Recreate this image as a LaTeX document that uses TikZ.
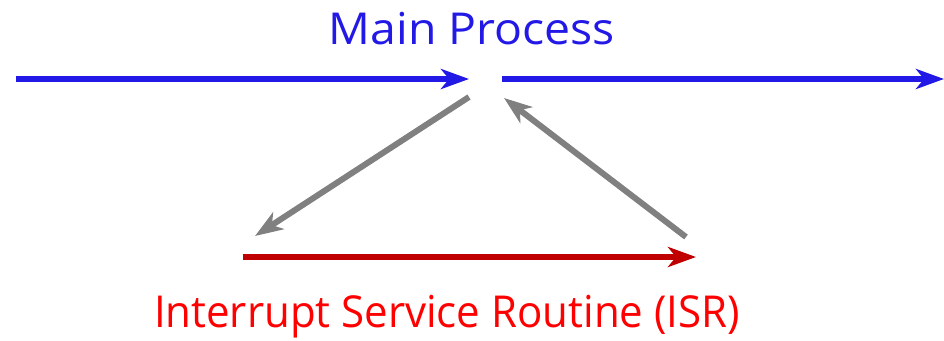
\documentclass[tikz,border=0pt]{standalone}
\usepackage{fontspec}
\setmainfont{Open Sans}
\usetikzlibrary{arrows.meta}
\definecolor{mainblue}{RGB}{35,25,230}
\definecolor{isrred}{RGB}{192,0,0}
\definecolor{isrtext}{RGB}{255,0,0}
\definecolor{linkgray}{RGB}{128,128,128}
\tikzset{
  flow/.style={line width=6pt,-{Stealth[length=28pt,width=20pt,inset=8pt]}},
  label/.style={inner sep=0pt,anchor=center,font=\fontsize{44}{52}\selectfont},
}
\begin{document}
\begin{tikzpicture}[x=1pt,y=-1pt]
\useasboundingbox (0,0) rectangle (944,340);
\coordinate (m0) at (16,79);
\coordinate (m1) at (469,79);
\coordinate (m2) at (502,79);
\coordinate (m3) at (944,79);
\coordinate (g1s) at (469,97);
\coordinate (g1e) at (255,236);
\coordinate (g2s) at (686,237);
\coordinate (g2e) at (504,98);
\coordinate (r0) at (243,257);
\coordinate (r1) at (696,257);
\node[label,text=mainblue,xscale=1.054] (mp) at (472,29) {Main Process};
\node[label,text=isrtext,xscale=0.955] (isr) at (447,317) {Interrupt Service Routine (ISR)};
\draw[flow,mainblue] (m0) -- (m1);
\draw[flow,mainblue] (m2) -- (m3);
\draw[flow,linkgray] (g1s) -- (g1e);
\draw[flow,linkgray] (g2s) -- (g2e);
\draw[flow,isrred] (r0) -- (r1);
\end{tikzpicture}
\end{document}
